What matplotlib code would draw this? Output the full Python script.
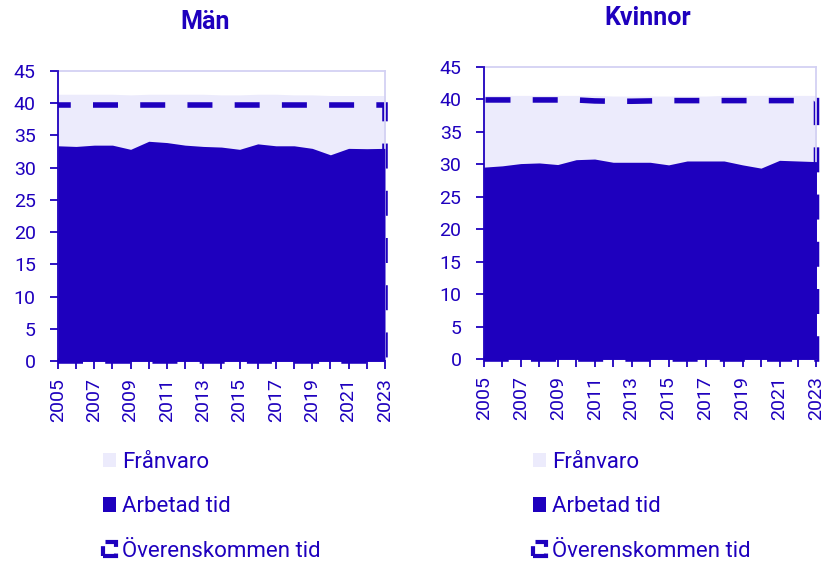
import numpy as np
import matplotlib.pyplot as plt
from matplotlib.patches import Patch, Polygon

plt.rcParams['font.family'] = ['Roboto', 'DejaVu Sans']

years = list(range(2005, 2024))

# Män
men_worked = [33.4, 33.3, 33.5, 33.5, 32.85, 34.1, 33.9, 33.5, 33.3, 33.2,
              32.85, 33.7, 33.4, 33.4, 33.0, 32.0, 33.0, 32.95, 33.0]
men_total = [41.4, 41.4, 41.4, 41.4, 41.3, 41.4, 41.4, 41.4, 41.4, 41.3,
             41.3, 41.4, 41.4, 41.3, 41.3, 41.2, 41.2, 41.2, 41.2]
men_agreed = [39.8] * 19

# Kvinnor
women_worked = [29.55, 29.75, 30.1, 30.2, 29.95, 30.7, 30.8, 30.3, 30.3, 30.3,
                29.9, 30.5, 30.5, 30.5, 29.9, 29.4, 30.6, 30.5, 30.4]
women_total = [40.6, 40.6, 40.6, 40.6, 40.6, 40.6, 40.6, 40.5, 40.5, 40.5,
               40.5, 40.5, 40.5, 40.6, 40.6, 40.6, 40.6, 40.6, 40.6]
women_agreed = [39.9, 39.9, 39.9, 39.9, 39.9, 39.9, 39.75, 39.7, 39.7, 39.75,
                39.8, 39.8, 39.8, 39.8, 39.8, 39.8, 39.8, 39.8, 39.8]

dark = '#1e00be'
light = '#ecebfc'
edge = '#d3d1f3'

fig = plt.figure(figsize=(8.34, 5.63), dpi=100)
ax1 = fig.add_axes([0.0695, 0.3588, 0.392, 0.515])
ax2 = fig.add_axes([0.580, 0.3623, 0.399, 0.519])


def draw(ax, worked, total, agreed):
    x = np.array(years)
    w = np.array(worked)
    t = np.array(total)
    ax.fill_between(x, 0, t, color=light, lw=0, zorder=1)
    # dashed outline of the agreed-time area (no left edge)
    pts = [(x[0], 0), (x[-1], 0)] + list(zip(x[::-1], agreed[::-1]))
    ax.add_patch(Polygon(pts, closed=False, fill=False, edgecolor=dark,
                         lw=4, ls=(0, (4.5, 4)), clip_on=False, zorder=2))
    ax.fill_between(x, 0, w, color=dark, lw=0, zorder=3)
    ax.set_xlim(2005, 2023)
    ax.set_ylim(0, 45)
    ax.set_yticks(range(0, 46, 5))
    ax.set_xticks(years)
    ax.set_xticklabels([str(y) if y % 2 == 1 else '' for y in years],
                       rotation=90)
    ax.tick_params(colors=dark, labelsize=14, length=6, width=1.3)
    ax.tick_params(axis='y', pad=10)
    ax.tick_params(axis='x', pad=6)
    for s in ['left', 'bottom']:
        ax.spines[s].set_color(dark)
        ax.spines[s].set_linewidth(1.3)
        ax.spines[s].set_zorder(4)
    for s in ['top', 'right']:
        ax.spines[s].set_color(edge)
        ax.spines[s].set_linewidth(1.3)


draw(ax1, men_worked, men_total, men_agreed)
draw(ax2, women_worked, women_total, women_agreed)

fig.text(205 / 834, 1 - 22 / 563, 'Män', color=dark, fontsize=18,
         fontweight='bold', ha='center', va='center')
fig.text(648 / 834, 1 - 18 / 563, 'Kvinnor', color=dark, fontsize=18,
         fontweight='bold', ha='center', va='center')

for xa in [103 / 834, 533 / 834]:
    handles = [Patch(facecolor=light, edgecolor='none'),
               Patch(facecolor=dark, edgecolor='none'),
               Patch(facecolor='none', edgecolor=dark, lw=3, ls='--')]
    fig.legend(handles, ['Frånvaro', 'Arbetad tid', 'Överenskommen tid'],
               loc='upper left', bbox_to_anchor=(xa, 1 - 452 / 563),
               frameon=False, fontsize=16, labelcolor=dark,
               handlelength=0.6, handleheight=0.6, handletextpad=0.25,
               labelspacing=1.05, borderaxespad=0, borderpad=0)

fig.savefig('out.png', dpi=100)
